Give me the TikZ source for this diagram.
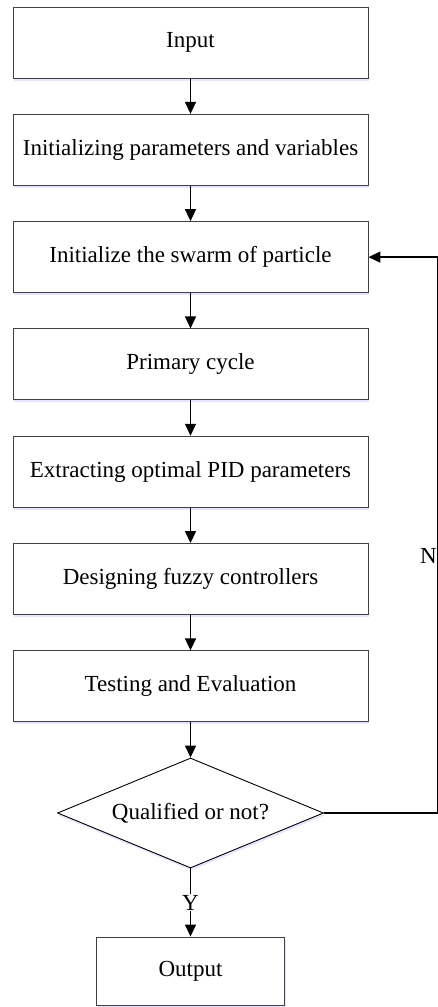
\documentclass[tikz,border=0pt]{standalone}
\usepackage{fontspec}
\setmainfont{Liberation Serif}
\usetikzlibrary{shapes.geometric,arrows.meta,shadows}
\begin{document}
\begin{tikzpicture}[x=1pt,y=-1pt,
  every node/.style={font=\fontsize{23}{27}\selectfont},
  procbox/.style={draw=black!75, line width=0.9pt, fill=white, rectangle,
    minimum width=355pt, minimum height=71pt, inner sep=0pt,
    drop shadow={shadow xshift=1pt, shadow yshift=-2.5pt, fill=blue!40!white, opacity=0.25}},
  decision/.style={draw=black, line width=0.9pt, fill=white, diamond, aspect=2.42,
    minimum width=266pt, minimum height=110pt, inner sep=0pt,
    drop shadow={shadow xshift=1pt, shadow yshift=-2.5pt, fill=blue!40!white, opacity=0.25}},
  flow/.style={line width=1.4pt, -{Triangle[width=11pt,length=12pt]}},
  plainline/.style={line width=1.4pt},
  lbl/.style={fill=white, inner sep=1pt}
]
\useasboundingbox (0,0) rectangle (438,1007);
\node[procbox] (in)   at (190.5,42.5)  {Input};
\node[procbox] (init) at (190.5,149.8) {Initializing parameters and variables};
\node[procbox] (swarm) at (190.5,257.1) {Initialize the swarm of particle};
\node[procbox] (prim) at (190.5,364.4) {Primary cycle};
\node[procbox] (extr) at (190.5,471.7) {Extracting optimal PID parameters};
\node[procbox] (fuzzy) at (190.5,579.0) {Designing fuzzy controllers};
\node[procbox] (test) at (190.5,686.3) {Testing and Evaluation};
\node[decision] (qual) at (190.5,813) {Qualified or not?};
\node[procbox, minimum width=188pt, minimum height=68pt] (out) at (190.5,971) {Output};

\draw[flow] (in) -- (init);
\draw[flow] (init) -- (swarm);
\draw[flow] (swarm) -- (prim);
\draw[flow] (prim) -- (extr);
\draw[flow] (extr) -- (fuzzy);
\draw[flow] (fuzzy) -- (test);
\draw[flow] (test) -- (qual);
\draw[flow] (qual) -- node[lbl] (ylab) {Y} (out);

\coordinate (cb) at (437.5,813);
\coordinate (ct) at (437.5,257.1);
\draw[plainline] (qual.east) -- (cb) -- (ct);
\draw[flow] (ct) -- (swarm.east);
\node[lbl, inner sep=0.5pt] (nlab) at (428.5,556) {N};
\end{tikzpicture}
\end{document}
